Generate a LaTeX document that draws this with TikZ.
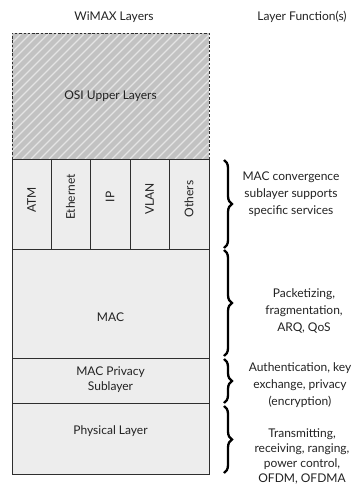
\documentclass[tikz,border=0pt]{standalone}
\usepackage{fontspec}
\setmainfont{Lato}
\usetikzlibrary{decorations.pathreplacing}
\definecolor{layerfill}{HTML}{EDEDED}
\definecolor{hatchbg}{HTML}{C2C2C2}
\definecolor{hatchline}{HTML}{E4E4E4}
\definecolor{edge}{HTML}{2E2E2E}
\definecolor{ink}{HTML}{222222}
\tikzset{
  layer/.style={draw=edge, line width=1pt, fill=layerfill},
  lbl/.style={font=\fontsize{12}{15}\selectfont, text=ink, align=center},
  func/.style={font=\fontsize{12}{16.8}\selectfont, text=ink, align=center},
  bracket/.style={decorate, decoration={brace, amplitude=8pt}, line width=2.3pt},
}
\begin{document}
\begin{tikzpicture}[x=1pt, y=-1pt]
  \useasboundingbox (0,0) rectangle (356,485);
  % headers
  \node[lbl] (h1) at (114,17) {WiMAX Layers};
  \node[lbl] (h2) at (302,17) {Layer Function(s)};
  % OSI upper layers: hatched, dashed outline
  \fill[hatchbg] (12,33) rectangle (209,159);
  \begin{scope}
    \clip (12,33) rectangle (209,159);
    \foreach \i in {-140,-131,...,220}
      \draw[hatchline, line width=1.3pt] (\i,159) -- (\i+126,33);
  \end{scope}
  \draw[edge, line width=1pt, dash pattern=on 2.5pt off 1.8pt] (12,159) -- (12,33) -- (209,33) -- (209,159);
  \node[lbl] (osi) at (110.5,96) {OSI Upper Layers};
  % convergence sublayer columns
  \draw[layer] (12,159) rectangle (51,249);
  \draw[layer] (51,159) rectangle (90,249);
  \draw[layer] (90,159) rectangle (130,249);
  \draw[layer] (130,159) rectangle (169,249);
  \draw[layer] (169,159) rectangle (209,249);
  \node[lbl, rotate=90] (atm) at (31.5,200) {ATM};
  \node[lbl, rotate=90] (eth) at (70.5,197) {Ethernet};
  \node[lbl, rotate=90] (ip) at (110,197) {IP};
  \node[lbl, rotate=90] (vlan) at (149.5,199) {VLAN};
  \node[lbl, rotate=90] (oth) at (189,199) {Others};
  % lower layers
  \draw[layer] (12,249) rectangle (209,358);
  \node[lbl] (mac) at (110.5,317) {MAC};
  \draw[layer] (12,358) rectangle (209,403);
  \node[lbl] (priv) at (110.5,380) {MAC Privacy\\Sublayer};
  \draw[layer] (12,403) rectangle (209,474);
  \node[lbl] (phy) at (110.5,431) {Physical Layer};
  % braces
  \coordinate (b1a) at (224,160); \coordinate (b1b) at (224,248);
  \coordinate (b2a) at (224,250); \coordinate (b2b) at (224,356);
  \coordinate (b3a) at (224,359); \coordinate (b3b) at (224,403);
  \coordinate (b4a) at (224,406); \coordinate (b4b) at (224,473);
  \draw[bracket] (b1a) -- (b1b);
  \draw[bracket] (b2a) -- (b2b);
  \draw[bracket] (b3a) -- (b3b);
  \draw[bracket] (b4a) -- (b4b);
  % functions
  \node[func] (f1) at (291,194) {MAC convergence\\sublayer supports\\specific services};
  \node[func] (f2) at (304,311) {Packetizing,\\fragmentation,\\ARQ, QoS};
  \node[func] (f3) at (300,385) {Authentication, key\\exchange, privacy\\(encryption)};
  \node[func, font=\fontsize{12}{15}\selectfont] (f4) at (302,456) {Transmitting,\\receiving, ranging,\\power control,\\OFDM, OFDMA};
\end{tikzpicture}
\end{document}
